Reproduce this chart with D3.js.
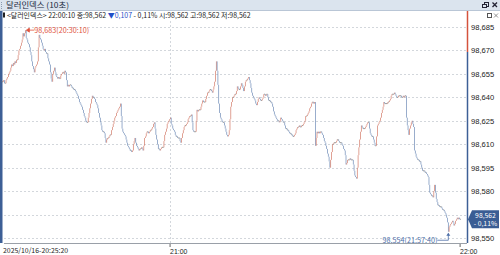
<!DOCTYPE html>
<html>
<head>
<meta charset="utf-8">
<script src="https://cdn.jsdelivr.net/npm/d3@7"></script>
<style>
  html, body { margin: 0; padding: 0; background: #fff; }
  svg { display: block; font-family: "Noto Sans CJK KR", "DejaVu Sans", sans-serif; }
</style>
</head>
<body>
<div id="chart"></div>
<script>
// 10-second bars, 20:25:20 .. 22:00:10, closes in thousandths above 98.000
const startTime = "2025-10-16 20:25:20";
const closes = [
  650, 650, 651, 649, 649, 651, 652, 653, 655, 656,
  657, 659, 661, 660, 662, 661, 663, 662, 664, 664,
  667, 670, 671, 673, 675, 677, 681, 679, 681, 683,
  678, 677, 675, 674, 672, 669, 667, 663, 660, 658,
  656, 659, 660, 661, 663, 672, 680, 678, 677, 675,
  673, 671, 670, 671, 669, 668, 668, 665, 663, 661,
  656, 652, 650, 655, 657, 659, 656, 654, 653, 652,
  653, 652, 652, 654, 655, 656, 656, 655, 657, 656,
  651, 647, 648, 647, 648, 648, 647, 646, 646, 645,
  645, 644, 643, 642, 641, 639, 637, 636, 635, 634,
  632, 630, 628, 627, 625, 624, 624, 627, 630, 633,
  636, 639, 641, 640, 640, 639, 637, 636, 635, 633,
  630, 627, 624, 622, 619, 618, 618, 617, 614, 611,
  613, 614, 614, 615, 616, 616, 619, 621, 623, 625,
  627, 628, 630, 631, 632, 633, 634, 636, 628, 620,
  618, 617, 616, 615, 613, 611, 609, 608, 607, 606,
  606, 605, 606, 610, 612, 614, 611, 609, 608, 607,
  606, 607, 607, 608, 607, 606, 609, 614, 615, 617,
  618, 618, 617, 618, 619, 619, 620, 621, 623, 624,
  620, 616, 613, 610, 607, 607, 606, 607, 608, 608,
  608, 612, 616, 618, 620, 623, 624, 625, 626, 627,
  623, 622, 620, 619, 618, 616, 615, 615, 614, 614,
  614, 612, 611, 614, 617, 619, 621, 622, 622, 623,
  624, 626, 627, 628, 628, 629, 624, 619, 618, 618,
  618, 625, 632, 631, 632, 632, 632, 634, 636, 638,
  637, 637, 637, 639, 641, 643, 643, 644, 645, 645,
  644, 643, 645, 647, 650, 657, 663, 657, 648, 636,
  630, 627, 626, 625, 624, 624, 622, 620, 618, 616,
  615, 616, 619, 626, 634, 637, 640, 640, 641, 642,
  642, 644, 647, 646, 645, 645, 647, 649, 648, 646,
  644, 647, 650, 651, 651, 652, 653, 651, 649, 646,
  643, 641, 640, 639, 638, 636, 635, 637, 639, 640,
  639, 638, 638, 639, 640, 642, 642, 641, 642, 642,
  640, 638, 638, 637, 637, 636, 634, 631, 629, 628,
  627, 626, 625, 625, 624, 625, 627, 626, 625, 624,
  624, 622, 620, 620, 619, 619, 618, 617, 617, 616,
  616, 615, 615, 616, 617, 619, 620, 621, 621, 622,
  621, 621, 622, 622, 623, 624, 625, 628, 628, 629,
  630, 631, 633, 634, 636, 637, 637, 636, 637, 609,
  614, 618, 617, 618, 617, 618, 618, 617, 616, 614,
  612, 611, 609, 607, 604, 602, 599, 595, 600, 605,
  610, 610, 611, 611, 611, 612, 613, 613, 612, 611,
  611, 611, 610, 609, 607, 606, 603, 597, 598, 600,
  600, 600, 601, 600, 600, 600, 597, 593, 590, 589,
  588, 595, 603, 608, 613, 618, 622, 621, 620, 620,
  620, 621, 622, 623, 624, 624, 620, 617, 616, 615,
  615, 613, 611, 609, 609, 615, 622, 623, 624, 625,
  627, 630, 632, 634, 637, 636, 636, 636, 636, 637,
  637, 638, 639, 641, 642, 642, 642, 643, 642, 641,
  640, 640, 641, 641, 641, 641, 640, 640, 641, 640,
  641, 641, 627, 622, 619, 616, 620, 622, 624, 625,
  623, 621, 606, 604, 602, 601, 600, 600, 599, 599,
  597, 595, 593, 593, 593, 592, 592, 591, 590, 589,
  584, 579, 578, 577, 577, 576, 580, 584, 579, 575,
  573, 571, 571, 570, 570, 570, 569, 568, 568, 567,
  566, 565, 563, 560, 554, 557, 558, 559, 560, 561,
  560, 558, 559, 561, 562, 563, 562, 563, 562, 562
];
const prevClose = 98.669;
const yTicks = [98.550, 98.565, 98.580, 98.595, 98.610, 98.625, 98.640, 98.655, 98.670, 98.685];
const xTicks = ["2025-10-16 21:00:00", "2025-10-16 22:00:00"];
const firstLabel = "2025/10/16-20:25:20";
const titleText = "달러인덱스 (10초)";
const infoParts = [
  { t: "<달러인덱스> 22:00:10 종:98,562 ", c: "#222" },
  { t: "▼0,107", c: "#1f4fc8" },
  { t: " - 0,11% 시:98,562 고:98,562 저:98,562", c: "#222" }
];

const width = 500, height = 255;
const plotLeft = 4, plotRight = 467, plotTop = 21, plotBottom = 243;

const parse = d3.timeParse("%Y-%m-%d %H:%M:%S");
const t0 = parse(startTime);
const bars = closes.map((c, i) => {
  const close = 98 + c / 1000;
  const open = i > 0 ? 98 + closes[i - 1] / 1000 : close;
  return {
    time: new Date(t0.getTime() + i * 10000),
    open, close,
    high: Math.max(open, close),
    low: Math.min(open, close)
  };
});

const x = d3.scaleTime()
  .domain([t0, bars[bars.length - 1].time])
  .range([2, 460.4]);
const y = d3.scaleLinear()
  .domain([98.550, 98.685])
  .range([238, 27]);

const fmt = v => d3.format(".3f")(v).replace(".", ",");
const last = bars[bars.length - 1];
const ly = y(last.close);

const svg = d3.select("#chart").append("svg")
  .attr("width", width)
  .attr("height", height);

// title bar
svg.append("rect").attr("x", 0).attr("y", 0).attr("width", width).attr("height", 10)
  .attr("fill", "#dbe4ee");
svg.append("line").attr("x1", 0).attr("x2", width).attr("y1", 10.5).attr("y2", 10.5)
  .attr("stroke", "#b9c6d6");
svg.append("g").selectAll("rect").data([2, 4, 6, 8]).join("rect")
  .attr("x", 1).attr("y", d => d).attr("width", 1).attr("height", 1).attr("fill", "#8a9ab0");
svg.append("text").attr("x", 6).attr("y", 8.4)
  .attr("font-size", 7.8).attr("fill", "#1a2a40")
  .attr("textLength", 63).attr("lengthAdjust", "spacingAndGlyphs")
  .text(titleText);
// window icons
svg.append("rect").attr("x", 484.5).attr("y", 2.5).attr("width", 4).attr("height", 4)
  .attr("fill", "none").attr("stroke", "#223").attr("stroke-width", 1);
svg.append("rect").attr("x", 482.5).attr("y", 4.5).attr("width", 4).attr("height", 3)
  .attr("fill", "#dbe4ee").attr("stroke", "#223").attr("stroke-width", 1);
svg.append("path").attr("d", "M492.5,2.5 L497,7 M497,2.5 L492.5,7")
  .attr("stroke", "#223").attr("stroke-width", 1.3);

// left frame stripe
svg.append("rect").attr("x", 0).attr("y", 11).attr("width", 2.5).attr("height", plotBottom - 11)
  .attr("fill", "#3d5f96");

// info line
svg.append("rect").attr("x", 3).attr("y", 12.5).attr("width", 2).attr("height", 5).attr("fill", "#222");
const info = svg.append("text").attr("x", 7).attr("y", 18)
  .attr("font-size", 6.95);
info.selectAll("tspan").data(infoParts).join("tspan")
  .attr("fill", d => d.c).text(d => d.t);

// plot-corner icons
svg.append("rect").attr("x", 487.5).attr("y", 13.5).attr("width", 4).attr("height", 4)
  .attr("fill", "none").attr("stroke", "#555");
svg.append("path").attr("d", "M494,13.5 L498,17.5 M498,13.5 L494,17.5")
  .attr("stroke", "#777").attr("stroke-width", 0.8);

// grid
const grid = svg.append("g");
grid.selectAll("line.h").data(yTicks).join("line")
  .attr("class", "h")
  .attr("x1", plotLeft).attr("x2", plotRight)
  .attr("y1", d => Math.round(y(d)) + 0.5).attr("y2", d => Math.round(y(d)) + 0.5)
  .attr("stroke", "#d3d7dc").attr("stroke-dasharray", "2,2");
grid.selectAll("line.v").data(xTicks.slice(0, 1).map(parse)).join("line")
  .attr("class", "v")
  .attr("x1", d => Math.round(x(d)) + 0.5).attr("x2", d => Math.round(x(d)) + 0.5)
  .attr("y1", plotTop).attr("y2", plotBottom)
  .attr("stroke", "#d3d7dc").attr("stroke-dasharray", "2,2");

// bars
svg.append("g").selectAll("rect").data(bars).join("rect")
  .attr("x", d => x(d.time) - 0.35)
  .attr("width", 0.7)
  .attr("y", d => d.high === d.low ? y(d.high) - 0.5 : y(d.high))
  .attr("height", d => Math.max(1, y(d.low) - y(d.high)))
  .attr("fill", d => d.close > d.open ? "#d37a68" : d.close < d.open ? "#6d8ab6" : "#777");

// max / min annotations
const maxBar = bars.reduce((a, b) => (b.high > a.high ? b : a));
const minBar = bars.reduce((a, b) => (b.low < a.low ? b : a));
const tf = d3.timeFormat("%H:%M:%S");
const red = "#e0533c", blue = "#4d6fa8";

const mx = x(maxBar.time), my = y(maxBar.high);
svg.append("path")
  .attr("d", `M${mx + 1},${my} l3,-2 l0,4 z M${mx + 3},${my} L${mx + 9},${my}`)
  .attr("fill", red).attr("stroke", red).attr("stroke-width", 0.8);
svg.append("text").attr("x", mx + 9).attr("y", my + 2.8)
  .attr("font-size", 7.2).attr("fill", red)
  .text(`${fmt(maxBar.high)}(${tf(maxBar.time)})`);

const nx = x(minBar.time), ny = y(minBar.low);
svg.append("path")
  .attr("d", `M${nx - 11},${ny + 8.5} L${nx},${ny + 8.5} L${nx},${ny + 2}`)
  .attr("fill", "none").attr("stroke", blue).attr("stroke-width", 0.8);
svg.append("path").attr("d", `M${nx},${ny + 1} l-2,3 l4,0 z`).attr("fill", blue);
svg.append("text").attr("x", nx - 11).attr("y", ny + 11).attr("text-anchor", "end")
  .attr("font-size", 7.2).attr("fill", blue)
  .text(`${fmt(minBar.low)}(${tf(minBar.time)})`);

// x axis
const xAxis = svg.append("g")
  .attr("transform", `translate(0,${plotBottom})`)
  .call(d3.axisBottom(x).tickValues(xTicks.map(parse)).tickFormat(d3.timeFormat("%H:%M")).tickSize(4).tickSizeOuter(0));
xAxis.select(".domain").remove();
xAxis.selectAll(".tick line").attr("stroke", "#666");
xAxis.selectAll(".tick text").attr("text-anchor", "start").attr("x", 0).attr("dy", "0.55em")
  .attr("font-size", 6.9).attr("fill", "#222").attr("font-family", null);
svg.append("line").attr("x1", plotLeft).attr("x2", plotRight)
  .attr("y1", plotBottom + 0.5).attr("y2", plotBottom + 0.5).attr("stroke", "#9aa0a8");
svg.append("text").attr("x", 3).attr("y", 253)
  .attr("font-size", 6.9).attr("fill", "#222").text(firstLabel);

// y axis (right); labels hidden behind the price tag are left out
const yAxis = svg.append("g")
  .attr("transform", `translate(${plotRight + 1},0)`)
  .call(d3.axisRight(y).tickValues(yTicks.filter(v => Math.abs(y(v) - ly) > 11)).tickFormat(fmt).tickSize(0).tickPadding(3));
yAxis.select(".domain").remove();
yAxis.selectAll(".tick text").attr("font-size", 7.6).attr("fill", "#222").attr("font-family", null);

// axis line coloured above / below previous close
svg.append("line").attr("x1", plotRight + 0.5).attr("x2", plotRight + 0.5)
  .attr("y1", 11).attr("y2", y(prevClose)).attr("stroke", "#d4523c").attr("stroke-width", 1.5);
svg.append("line").attr("x1", plotRight + 0.5).attr("x2", plotRight + 0.5)
  .attr("y1", y(prevClose)).attr("y2", plotBottom).attr("stroke", "#3d5f96").attr("stroke-width", 1.5);

// current price tag
const tag = svg.append("g").attr("transform", `translate(${plotRight + 1},${ly})`);
tag.append("path").attr("d", "M0,0 L4,-9 L31,-9 L31,9 L4,9 Z").attr("fill", "#3a5d94");
tag.append("text").attr("x", 17.5).attr("y", -1.6).attr("text-anchor", "middle")
  .attr("font-size", 6.8).attr("fill", "#fff").text(fmt(last.close));
tag.append("text").attr("x", 17.5).attr("y", 7.2).attr("text-anchor", "middle")
  .attr("font-size", 6.8).attr("fill", "#fff")
  .text(`- ${d3.format(".2f")(Math.abs((last.close - prevClose) / prevClose * 100)).replace(".", ",")}%`);
</script>
</body>
</html>
